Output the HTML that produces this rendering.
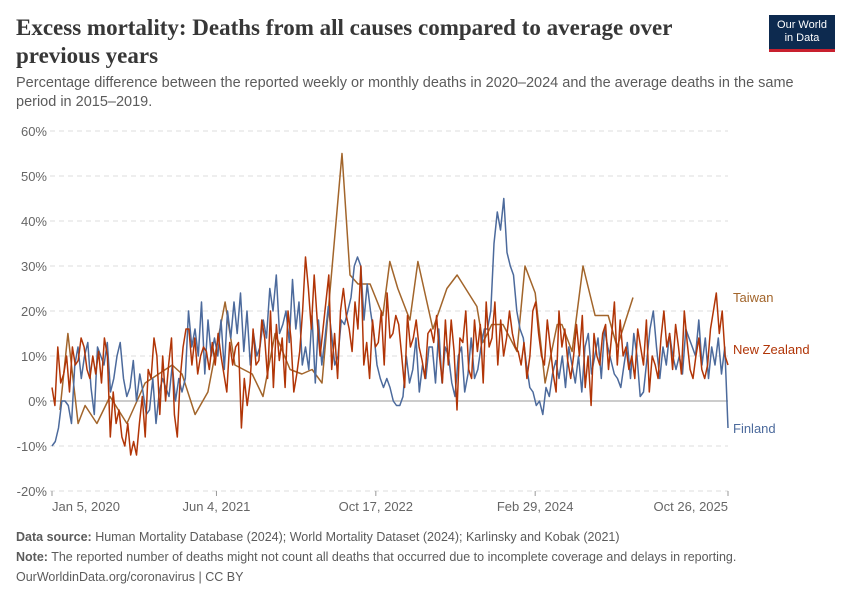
<!DOCTYPE html>
<html><head><meta charset="utf-8">
<style>
body{margin:0;background:#fff;font-family:"Liberation Sans",sans-serif;}
#wrap{position:relative;width:850px;height:600px;overflow:hidden;}
.title{position:absolute;left:16px;top:14px;font-family:"Liberation Serif",serif;font-size:23px;font-weight:bold;line-height:28px;color:#373737;width:700px;}
.sub{position:absolute;left:16px;top:74px;font-size:14.5px;line-height:19px;color:#5b5b5b;width:800px;}
.logo{position:absolute;left:769px;top:15px;width:66px;height:37px;background:#0d2a4f;color:#fff;font-size:11px;line-height:13px;text-align:center;padding-top:4px;box-sizing:border-box;border-bottom:3px solid #c8202e;}
.foot{position:absolute;left:16px;font-size:12.5px;color:#5b5b5b;}
.foot b{color:#5b5b5b}
</style></head><body>
<div id="wrap">
<div class="title">Excess mortality: Deaths from all causes compared to average over previous years</div>
<div class="sub">Percentage difference between the reported weekly or monthly deaths in 2020–2024 and the average deaths in the same period in 2015–2019.</div>
<div class="logo">Our World<br>in Data</div>
<svg id="chart" width="850" height="600" style="position:absolute;left:0;top:0"></svg>
<div class="foot" style="top:530px"><b>Data source:</b> Human Mortality Database (2024); World Mortality Dataset (2024); Karlinsky and Kobak (2021)</div>
<div class="foot" style="top:550px"><b>Note:</b> The reported number of deaths might not count all deaths that occurred due to incomplete coverage and delays in reporting.</div>
<div class="foot" style="top:570px">OurWorldinData.org/coronavirus | CC BY</div>
</div>
<script>
const yTicks=[-20,-10,0,10,20,30,40,50,60];
const xTickLabels=["Jan 5, 2020","Jun 4, 2021","Oct 17, 2022","Feb 29, 2024","Oct 26, 2025"];
const xTickDays=[0,516,1016,1516,2121];
const finland=[-10,-9,-6,0,0,-1,-5,8,12,5,10,13,3,-3,12,10,8,13,2,5,10,13,5,1,3,9,0,6,2,-3,-2,5,-5,2,5,3,1,8,0,5,2,5,20,12,16,10,22,6,18,10,14,10,18,7,20,14,22,15,24,11,20,8,15,10,12,18,14,25,20,28,15,17,20,13,27,16,22,8,12,7,19,4,18,8,14,21,15,8,10,18,17,20,23,30,32,30,18,26,20,15,8,5,3,5,3,0,-1,-1,1,10,4,7,14,2,8,5,12,12,4,16,4,12,10,4,1,10,12,2,6,14,5,7,12,16,16,20,35,42,38,45,33,30,28,20,16,14,8,3,2,-1,0,-3,3,1,6,9,5,10,3,12,8,4,10,2,12,15,6,10,14,5,16,12,9,6,5,3,8,13,5,15,10,1,2,9,16,20,12,5,12,8,15,10,7,10,6,16,14,12,10,18,8,14,5,12,8,14,6,12,-6];
const newZealand=[3,-1,12,4,6,10,2,12,8,9,14,12,7,5,10,6,11,4,14,10,-8,2,-5,-2,-8,-10,-5,-12,-9,-12,-5,1,-8,7,5,14,10,-3,10,0,8,14,-3,-8,5,12,16,16,8,14,6,10,12,11,7,13,8,15,10,6,2,13,8,12,13,-6,5,-1,4,16,8,9,18,14,5,20,3,17,9,14,3,20,14,2,6,11,20,32,25,16,28,18,10,16,22,28,7,15,5,20,25,19,16,11,22,16,30,8,13,5,18,12,13,20,8,24,14,15,19,17,10,3,19,12,14,18,12,9,5,15,16,13,19,10,4,18,8,18,11,-2,14,13,20,7,5,18,11,17,4,22,12,14,22,8,18,10,14,20,15,12,11,8,13,5,10,20,22,15,10,8,18,12,6,2,20,12,16,9,5,10,17,10,19,3,10,-1,15,10,8,15,17,7,14,22,8,18,10,12,7,10,5,16,12,8,18,2,10,8,5,14,20,12,15,7,17,12,6,20,13,7,5,10,14,7,5,8,16,20,24,15,20,10,8];
const taiwanDays=[25,50,82,104,141,182,235,292,377,408,449,489,543,574,628,662,700,747,784,816,847,910,935,960,998,1038,1060,1085,1123,1148,1195,1239,1271,1333,1352,1380,1415,1459,1484,1516,1547,1585,1600,1632,1666,1704,1726,1745,1773,1823];
const taiwan=[-2,15,-5,-1,-5,1,-5,4,8,6,-3,2,22,8,6,1,15,7,6,7,4,55,28,26,26,19,31,25,18,31,16,25,28,21,13,17,17,11,30,24,4,17,17,11,30,19,19,19,12,23];
const X0=52,X1=728,SPAN=2121,Y0=401,PPU=4.5;
const xs=d=>X0+d/SPAN*(X1-X0);
const ys=v=>Y0-v*PPU;
const svg=document.getElementById('chart');
const NS='http://www.w3.org/2000/svg';
function mk(tag,attrs){const e=document.createElementNS(NS,tag);for(const k in attrs)e.setAttribute(k,attrs[k]);svg.appendChild(e);return e;}
yTicks.forEach(t=>{
  const g=mk('line',{x1:50,x2:728,y1:ys(t),y2:ys(t),stroke:t===0?'#bbb':'#ddd','stroke-width':t===0?1.5:1,'stroke-dasharray':t===0?'':'5,4'});
  
  
  const tx=mk('text',{x:47,y:ys(t)+5,'text-anchor':'end','font-size':13,fill:'#666','font-family':'Liberation Sans'});
  tx.textContent=t+'%';
  
  
});
xTickLabels.forEach((l,i)=>{
  const x=xs(xTickDays[i]);
  const tk=mk('line',{x1:x,x2:x,y1:491,y2:496,stroke:'#999'});
  
  
  const tx=mk('text',{x:x,y:511,'text-anchor':i===0?'start':(i===4?'end':'middle'),'font-size':13,fill:'#666','font-family':'Liberation Sans'});
  tx.textContent=l;
  
  
});
function series(vals,days,color,name){
  const n=vals.length;
  const pts=vals.map((v,i)=>{const d=days?days[i]:i*SPAN/(n-1);return xs(d).toFixed(1)+','+ys(v).toFixed(1);}).join(' ');
  const p=mk('polyline',{points:pts,fill:'none',stroke:color,'stroke-width':1.5,'stroke-linejoin':'round'});
  
  
}
series(taiwan,taiwanDays,'#a2652b','taiwan');
series(finland,null,'#4c6a9c','finland');
series(newZealand,null,'#b13507','new-zealand');
[['Taiwan',302,'#a2652b'],['New Zealand',354,'#b13507'],['Finland',433,'#4c6a9c']].forEach(l=>{
  const t=mk('text',{x:733,y:l[1],'font-size':13,fill:l[2],'font-family':'Liberation Sans'});
  t.textContent=l[0];
  
  
});
</script>
</body></html>
